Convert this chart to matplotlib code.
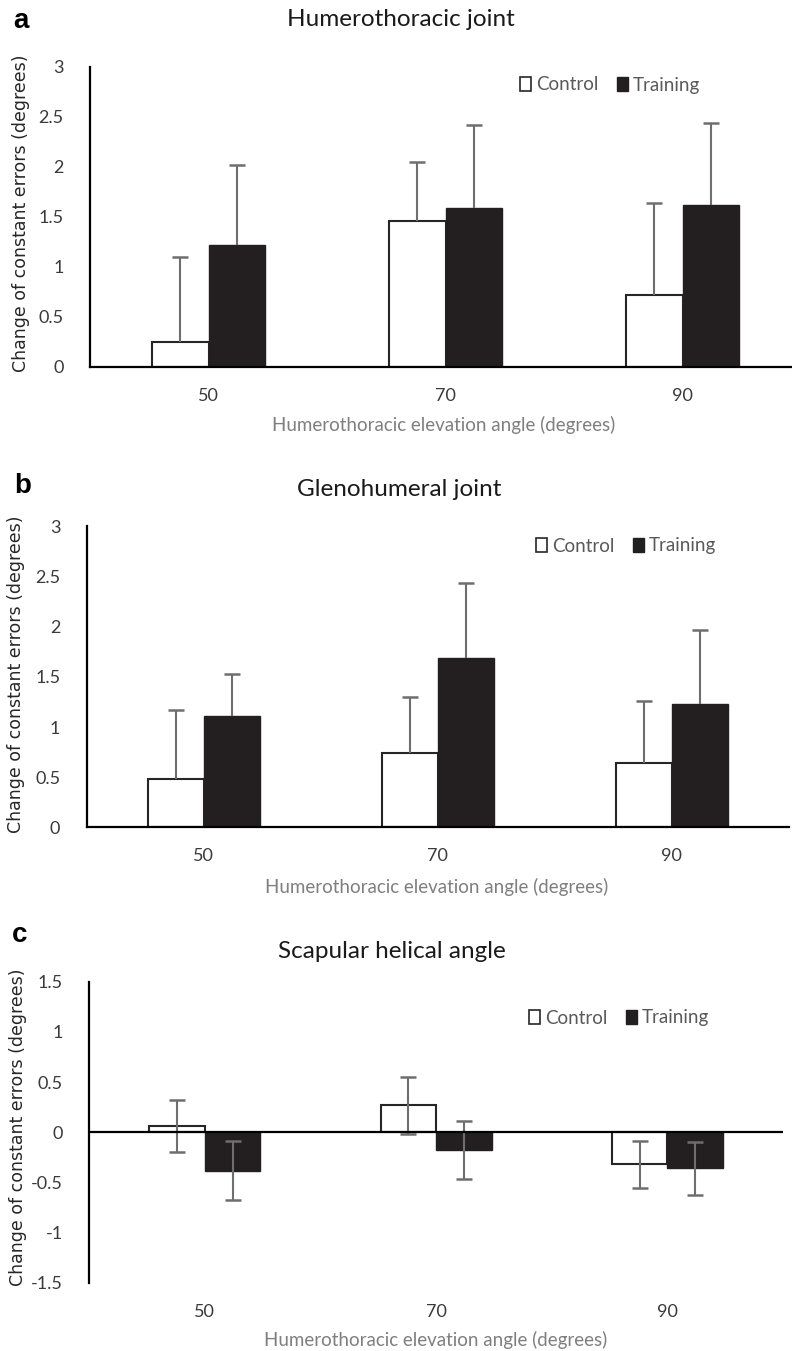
import numpy as np
import matplotlib
matplotlib.use('Agg')
import matplotlib.pyplot as plt
from matplotlib.patches import Patch

# categorias (angulo de elevacion humerotoracico)
angles = ['50', '70', '90']

# a) Humerothoracic joint
ht_control = [0.25, 1.46, 0.72]
ht_control_sd = [0.85, 0.59, 0.92]
ht_training = [1.22, 1.59, 1.62]
ht_training_sd = [0.80, 0.83, 0.82]

# b) Glenohumeral joint
gh_control = [0.48, 0.745, 0.645]
gh_control_sd = [0.69, 0.555, 0.615]
gh_training = [1.11, 1.69, 1.23]
gh_training_sd = [0.42, 0.745, 0.74]

# c) Scapular helical angle
sh_control = [0.06, 0.27, -0.32]
sh_control_sd = [0.26, 0.285, 0.235]
sh_training = [-0.385, -0.18, -0.36]
sh_training_sd = [0.295, 0.29, 0.265]

W, H = 792, 1351
fig = plt.figure(figsize=(W / 100, H / 100), dpi=100)

FONT = ['Lato', 'DejaVu Sans']
TICK_COLOR = '#3a3a3a'
GRAY = '#7f7f7f'


def box(left, top, right, bottom):
    # pixeles -> fraccion de figura
    return [left / W, 1 - bottom / H, (right - left) / W, (bottom - top) / H]


def panel(rect, xlim, ctrl, ctrl_sd, trn, trn_sd, ylim, yticks, both_sides):
    ax = fig.add_axes(rect)
    x = np.arange(len(angles))
    w = 0.24
    ax.bar(x - w / 2, ctrl, w, color='white', edgecolor='#262626', linewidth=1.5, zorder=2)
    ax.bar(x + w / 2, trn, w, color='#231f20', edgecolor='#231f20', linewidth=1, zorder=2)
    for xs, vals, sd in ((x - w / 2, ctrl, ctrl_sd), (x + w / 2, trn, trn_sd)):
        err = sd if both_sides else [np.zeros(len(sd)), sd]
        _, caps, _ = ax.errorbar(xs, vals, yerr=err, fmt='none', ecolor='#6e6e6e',
                                 elinewidth=1.5, capsize=5.5, capthick=1.8, zorder=3)
        if not both_sides:
            for c in caps:
                if np.allclose(c.get_ydata(), vals):
                    c.set_visible(False)
    ax.set_xlim(*xlim)
    ax.set_ylim(*ylim)
    ax.set_xticks(x)
    ax.set_xticklabels(angles)
    ax.set_yticks(yticks)
    ax.set_yticklabels([f'{v:g}' for v in yticks])
    for lab in ax.get_xticklabels() + ax.get_yticklabels():
        lab.set_family(FONT)
        lab.set_fontsize(13)
        lab.set_color(TICK_COLOR)
    ax.tick_params(axis='both', length=0)
    ax.tick_params(axis='y', pad=19)
    ax.tick_params(axis='x', pad=15)
    for s in ('top', 'right'):
        ax.spines[s].set_visible(False)
    ax.spines['left'].set_linewidth(1.6)
    ax.spines['left'].set_color('black')
    if both_sides:
        ax.spines['bottom'].set_visible(False)
        ax.axhline(0, color='black', linewidth=1.6, zorder=4)
    else:
        ax.spines['bottom'].set_linewidth(1.6)
        ax.spines['bottom'].set_color('black')
    ax.patch.set_visible(False)
    return ax


def legend(x, y):
    handles = [Patch(facecolor='white', edgecolor='#262626', linewidth=1.2, label='Control'),
               Patch(facecolor='#231f20', edgecolor='#231f20', label='Training')]
    fig.legend(handles=handles, loc='center left', bbox_to_anchor=(x / W, 1 - y / H),
               ncol=2, frameon=False, borderpad=0, borderaxespad=0,
               handlelength=0.6, handleheight=0.7, handletextpad=0.25, columnspacing=1.0,
               labelcolor='#595959', prop={'family': FONT, 'size': 13.5})


def labels(letter, lx, ly, title, tx, ty, ylab_x, ylab_y, xlab_x, xlab_y):
    fig.text(lx / W, 1 - ly / H, letter, fontsize=20, fontweight='bold',
             family=['Liberation Sans', 'DejaVu Sans'], ha='center', va='center')
    fig.text(tx / W, 1 - ty / H, title, fontsize=17.5, family=FONT,
             color='#1a1a1a', ha='center', va='center')
    fig.text(ylab_x / W, 1 - ylab_y / H, 'Change of constant errors (degrees)', rotation=90,
             fontsize=12.5, family=['DejaVu Sans'], color='#262626', ha='center', va='center')
    fig.text(xlab_x / W, 1 - xlab_y / H, 'Humerothoracic elevation angle (degrees)',
             fontsize=13.5, family=FONT, color=GRAY, ha='center', va='center')


# panel a
panel(box(90, 66.7, 792, 366.7), (-0.5, 2.462), ht_control, ht_control_sd,
      ht_training, ht_training_sd, (0, 3), np.arange(0, 3.01, 0.5), False)
legend(520, 85)
labels('a', 21, 21, 'Humerothoracic joint', 401, 20, 21, 213, 444, 425)

# panel b
panel(box(86.7, 526.4, 788.7, 827.3), (-0.5, 2.5), gh_control, gh_control_sd,
      gh_training, gh_training_sd, (0, 3), np.arange(0, 3.01, 0.5), False)
legend(536, 546)
labels('b', 23, 486, 'Glenohumeral joint', 399, 490, 16, 674, 437, 887)

# panel c
panel(box(89.3, 981.7, 783, 1282.7), (-0.5, 2.5), sh_control, sh_control_sd,
      sh_training, sh_training_sd, (-1.5, 1.5), np.arange(-1.5, 1.51, 0.5), True)
legend(529, 1018)
labels('c', 20, 935, 'Scapular helical angle', 392, 952, 18, 1127, 436, 1340)

fig.savefig('out.png', dpi=100)
